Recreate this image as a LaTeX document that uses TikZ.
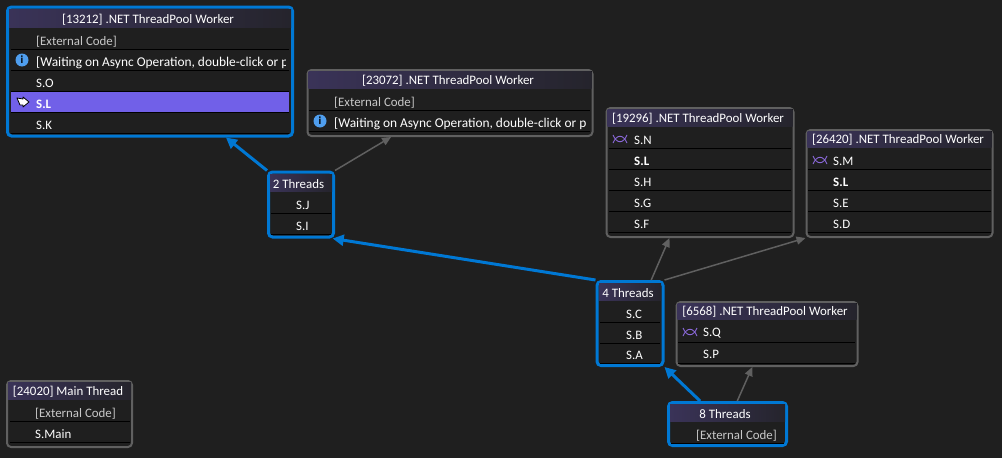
\documentclass[tikz,border=0pt]{standalone}
\usepackage{fontspec}
\setmainfont{Carlito}
\usetikzlibrary{arrows.meta}

\definecolor{canvas}{HTML}{1F1F1F}
\definecolor{busy}{HTML}{0078D4}
\definecolor{idle}{HTML}{606060}
\definecolor{headl}{HTML}{3A3358}
\definecolor{headr}{HTML}{25242C}
\definecolor{rowsel}{HTML}{7160E8}
\definecolor{infoblue}{HTML}{4F9EEE}
\definecolor{dimtext}{HTML}{C8C8C8}
\definecolor{waiticon}{HTML}{8A68D8}

\tikzset{
  panel/.style={draw=idle, line width=2pt, rounded corners=4pt, fill=canvas, inner sep=0pt},
  active/.style={panel, draw=busy, line width=3pt},
  head/.style={left color=headl, right color=headr, draw=none},
  rowline/.style={black, line width=1pt},
  txt/.style={text=white, inner sep=0pt, font=\fontsize{12.9}{12.9}\selectfont},
  title/.style={txt, anchor=center, yshift=-1.2pt},
  row/.style={txt, anchor=west, yshift=-.6pt},
  rowdim/.style={row, text=dimtext},
  rowbold/.style={row, font=\fontsize{12.9}{12.9}\selectfont\bfseries},
  rowwait/.style={row, font=\fontsize{13.4}{13.4}\selectfont},
  arrowbusy/.style={draw=busy, line width=3pt, -{Triangle[length=11pt,width=11pt]}},
  arrowidle/.style={draw=idle, line width=1.5pt, -{Triangle[length=9pt,width=8pt]}},
}

\newcommand{\infomark}[3]{%
  \node[circle, fill=infoblue, minimum size=13pt, inner sep=0pt, text=black, font=\fontsize{11}{11}\selectfont\bfseries] (#1) at (#2,#3) {i};}
\newcommand{\waitmark}[2]{%
  \draw[waiticon, line width=.9pt] (#1-7,#2-4) .. controls (#1-3,#2+5) and (#1+3,#2+5) .. (#1+7,#2-4);
  \draw[waiticon, line width=.9pt] (#1-7,#2+4) .. controls (#1-3,#2-5) and (#1+3,#2-5) .. (#1+7,#2+4);}

\begin{document}
\begin{tikzpicture}[x=1pt,y=-1pt]

\fill[canvas] (0,0) rectangle (1002,458);
\useasboundingbox (0,0) rectangle (1002,458);

% frames
\node[active, minimum width=285pt, minimum height=129pt] (W13212) at (150,71.5) {};
\node[panel, minimum width=285pt, minimum height=66pt] (W23072) at (450,103) {};
\node[panel, minimum width=187pt, minimum height=129pt] (W19296) at (700,172.5) {};
\node[panel, minimum width=186pt, minimum height=107pt] (W26420) at (899.5,183.5) {};
\node[panel, minimum width=181pt, minimum height=64pt] (W6568) at (767,334) {};
\node[panel, minimum width=125pt, minimum height=66pt] (W24020) at (69.5,414) {};
\node[active, minimum width=65pt, minimum height=65pt] (T2) at (301,204.5) {};
\node[active, minimum width=66pt, minimum height=84pt] (T4) at (630,323.5) {};
\node[active, minimum width=118pt, minimum height=43pt] (T8) at (727.5,424) {};

% headers
\fill[head] (9,9) rectangle (291,27);
\fill[head] (308.5,71) rectangle (591.5,88);
\fill[head] (607.5,109) rectangle (792.5,126);
\fill[head] (807.5,131) rectangle (991.5,147);
\fill[head] (677.5,303) rectangle (856.5,319);
\fill[head] (8,382) rectangle (131,399);
\fill[head] (270,174) rectangle (332,191);
\fill[head] (599,283) rectangle (661,300);
\fill[head] (670,404) rectangle (785,421);

% selected row
\fill[rowsel] (11,92) rectangle (289,112);

% row separators
\foreach \y in {49.5,70.5,91.5,112.5,133.5} \draw[rowline] (11,\y) -- (289,\y);
\foreach \y in {110.5,131.5} \draw[rowline] (309,\y) -- (590,\y);
\foreach \y in {148.5,169.5,190.5,211.5,232.5} \draw[rowline] (609,\y) -- (791,\y);
\foreach \y in {169.5,190.5,211.5,232.5} \draw[rowline] (808,\y) -- (991,\y);
\foreach \y in {342.5,363.5} \draw[rowline] (678,\y) -- (855,\y);
\foreach \y in {421.5,442.5} \draw[rowline] (10,\y) -- (130,\y);
\foreach \y in {213.5,234.5} \draw[rowline] (271,\y) -- (331,\y);
\foreach \y in {322.5,343.5,363.7} \draw[rowline] (600,\y) -- (660,\y);
\draw[rowline] (671,443.8) -- (784,443.8);

% titles
\node[title] (W13212t) at (148,19) {[13212] .NET ThreadPool Worker};
\node[title] (W23072t) at (448,80) {[23072] .NET ThreadPool Worker};
\node[title] (W19296t) at (698,118) {[19296] .NET ThreadPool Worker};
\node[title] (W26420t) at (898,139) {[26420] .NET ThreadPool Worker};
\node[title] (W6568t) at (765,311) {[6568] .NET ThreadPool Worker};
\node[title] (W24020t) at (68,391) {[24020] Main Thread};
\node[title] (T2t) at (298.5,183) {2 Threads};
\node[title] (T4t) at (628,292) {4 Threads};
\node[title] (T8t) at (725,413) {8 Threads};

% rows
\node[rowdim] (W13212a) at (36,41) {[External Code]};
\begin{scope}
\clip (30,50) rectangle (285,70);
\node[rowwait] (W13212b) at (36,62) {[Waiting on Async Operation, double-click or pr};
\end{scope}
\node[row] (W13212c) at (36,83) {S.O};
\node[rowbold] (W13212d) at (36,104) {S.L};
\node[row] (W13212e) at (36,125) {S.K};

\node[rowdim] (W23072a) at (334,102) {[External Code]};
\begin{scope}
\clip (330,111) rectangle (586,131);
\node[rowwait] (W23072b) at (334,123) {[Waiting on Async Operation, double-click or pr};
\end{scope}

\node[row] (W19296a) at (634,140) {S.N};
\node[rowbold] (W19296b) at (634,161) {S.L};
\node[row] (W19296c) at (634,182) {S.H};
\node[row] (W19296d) at (634,203) {S.G};
\node[row] (W19296e) at (634,224) {S.F};

\node[row] (W26420a) at (833,161) {S.M};
\node[rowbold] (W26420b) at (833,182) {S.L};
\node[row] (W26420c) at (833,203) {S.E};
\node[row] (W26420d) at (833,224) {S.D};

\node[row] (W6568a) at (703,333) {S.Q};
\node[row] (W6568b) at (703,354) {S.P};

\node[rowdim] (W24020a) at (35,413) {[External Code]};
\node[row] (W24020b) at (35,434) {S.Main};

\node[row] (T2a) at (296,204.5) {S.J};
\node[row] (T2b) at (296,225.5) {S.I};

\node[row] (T4a) at (626,314) {S.C};
\node[row] (T4b) at (626,335) {S.B};
\node[row] (T4c) at (626,355) {S.A};

\node[rowdim] (T8a) at (696,435) {[External Code]};

% icons
\infomark{info1}{22}{60}
\infomark{info2}{320}{121}
\waitmark{620}{139}
\waitmark{820}{160}
\waitmark{690}{332}
\draw[fill=white, draw=black, line width=.8pt, line join=round]
  (17,98) -- (23,99) -- (23,97) -- (29,102) -- (23,107) -- (23,105) -- (20,105) -- cycle;

% connectors
\draw[arrowbusy] (T2.north west) -- (W13212.-41);
\draw[arrowidle] (T2.north east) -- (W23072.-150);
\draw[arrowbusy] (T4.north west) -- (T2.-47.6);
\draw[arrowidle] (T4.64) -- (W19296.-115.7);
\draw[arrowidle] (T4.north east) -- (W26420.south west);
\draw[arrowbusy] (T8.140) -- (T4.south east);
\draw[arrowidle] (T8.67.6) -- (W6568.-114);

\end{tikzpicture}
\end{document}
